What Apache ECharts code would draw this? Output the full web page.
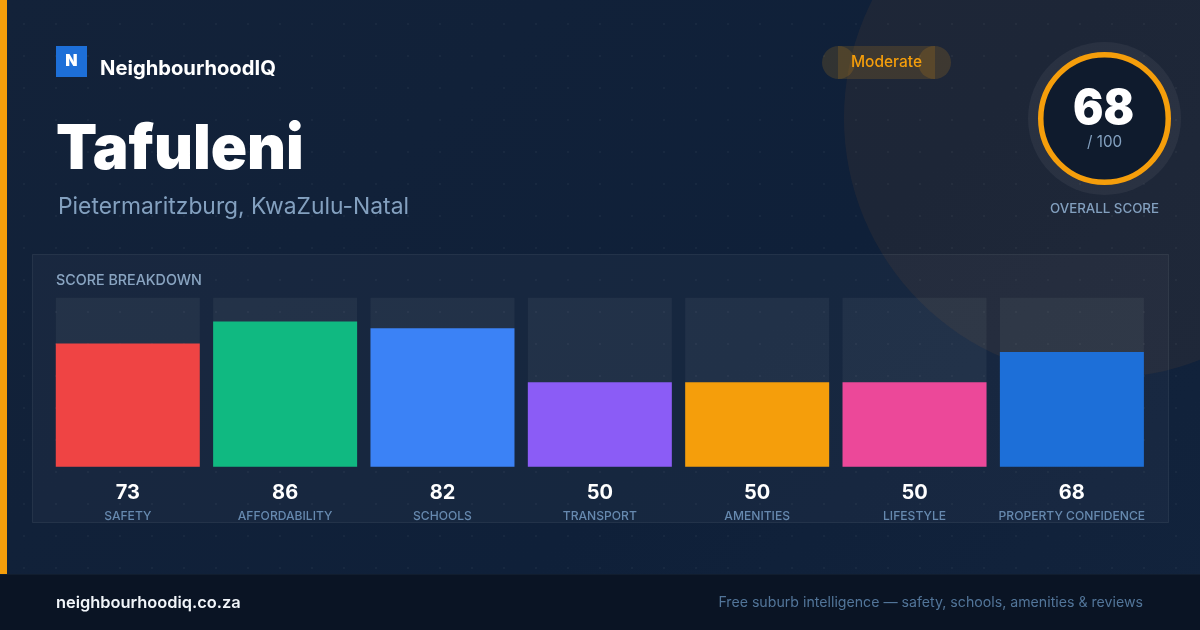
<!DOCTYPE html>
<html><head><meta charset="utf-8">
<script src="https://cdn.jsdelivr.net/npm/echarts@6/dist/echarts.min.js"></script>
<style>
html,body{margin:0;padding:0;width:1200px;height:630px;overflow:hidden;
background-color:#12223b;
background-image:radial-gradient(circle at center,rgba(255,255,255,.035) 1.1px,transparent 1.2px),linear-gradient(135deg,#132239 0%,#0f2039 60%,#12233c 100%);
background-size:32px 32px,100% 100%;background-position:8px 8px,0 0;}
#c{width:1200px;height:630px}
</style></head><body><div id="c"></div>
<script>
const categories=['SAFETY','AFFORDABILITY','SCHOOLS','TRANSPORT','AMENITIES','LIFESTYLE','PROPERTY CONFIDENCE'];
const scores=[73,86,82,50,50,50,68];
const barColors=['#ef4444','#10b981','#3b82f6','#8b5cf6','#f59e0b','#ec4899','#1d6fd8'];
const overall=68;
const suburb='Tafuleni', place='Pietermaritzburg, KwaZulu-Natal', band='Moderate';
const F='Inter';
const t=(x,y,text,size,weight,fill,align,sx)=>({type:'text',z:5,x,y,scaleX:sx||1,style:{x:0,y:0,text,fontFamily:F,fontSize:size,fontWeight:weight,fill,align:align||'left',verticalAlign:'middle'}});
const orange='#f59e0b';
const muted='#83a0bf';
const chart=echarts.init(document.getElementById('c'),null,{renderer:'canvas'});
chart.setOption({
 animation:false,backgroundColor:'transparent',
 grid:{left:49.1,top:297.85,width:1101.45,height:169,containLabel:false},
 xAxis:{type:'category',data:categories,axisLine:{show:false},axisTick:{show:false},
  axisLabel:{interval:0,margin:14,formatter:(n,i)=>`{v|${scores[i]}}\n{n|${n}}`,
   rich:{v:{fontFamily:F,fontSize:20,fontWeight:700,color:'#ffffff',lineHeight:24,align:'center'},
         n:{fontFamily:F,fontSize:12.1,fontWeight:500,color:'#6286ad',lineHeight:23,align:'center'}}}},
 yAxis:{type:'value',min:0,max:100,show:false,splitLine:{show:false}},
 series:[{type:'bar',barWidth:144,data:scores.map((v,i)=>({value:v,itemStyle:{color:barColors[i]}})),
  showBackground:true,backgroundStyle:{color:'rgba(255,255,255,0.05)'}}],
 graphic:[
  {type:'circle',z:0,shape:{cx:1104,cy:118,r:260},style:{fill:'rgba(230,130,45,0.07)'}},
  {type:'rect',z:1,shape:{x:32.5,y:254.5,width:1136,height:268},style:{fill:'rgba(255,255,255,0.03)',stroke:'rgba(255,255,255,0.07)',lineWidth:1}},
  {type:'rect',z:1,shape:{x:0,y:0,width:7,height:574},style:{fill:orange}},
  {type:'rect',z:1,shape:{x:0,y:574,width:1200,height:56},style:{fill:'#0a1424'}},
  {type:'rect',z:1,shape:{x:0,y:574,width:1200,height:1},style:{fill:'#111d2e'}},
  {type:'rect',z:2,shape:{x:56,y:46,width:31,height:31},style:{fill:'#1d6fd8'}},
  t(71.5,61.5,'N',16,900,'#ffffff','center'),
  t(100,69,'NeighbourhoodIQ',20.2,700,'#ffffff'),
  t(56,150,suburb,62,900,'#ffffff','left',0.968),
  t(58,207,place,22.85,400,muted),
  {type:'circle',z:2,shape:{cx:838.5,cy:62.5,r:16.5},style:{fill:'rgba(245,158,11,0.15)'}},
  {type:'circle',z:2,shape:{cx:934.5,cy:62.5,r:16.5},style:{fill:'rgba(245,158,11,0.15)'}},
  {type:'rect',z:2,shape:{x:838,y:46,width:97,height:33},style:{fill:'rgba(245,158,11,0.15)'}},
  t(886.5,62,band,15.5,500,orange,'center'),
  {type:'circle',z:2,shape:{cx:1104.5,cy:118.5,r:76.5},style:{fill:'rgba(255,255,255,0.05)'}},
  {type:'circle',z:3,shape:{cx:1104.5,cy:118.5,r:63.75},style:{fill:'#0f1b2d',stroke:orange,lineWidth:5.5}},
  t(1103.5,110,String(overall),48,900,'#ffffff','center',0.94),
  t(1104.5,142,'/ 100',16,400,muted,'center',0.95),
  t(1104.5,208.5,'OVERALL SCORE',13.3,500,muted,'center'),
  t(56,281,'SCORE BREAKDOWN',14.3,500,'#8aa5c2'),
  t(56,603,'neighbourhoodiq.co.za',16.4,600,'#f1f5f9'),
  t(1143,603,'Free suburb intelligence — safety, schools, amenities & reviews',14.17,400,'#527599','right')
 ]
});
</script></body></html>
